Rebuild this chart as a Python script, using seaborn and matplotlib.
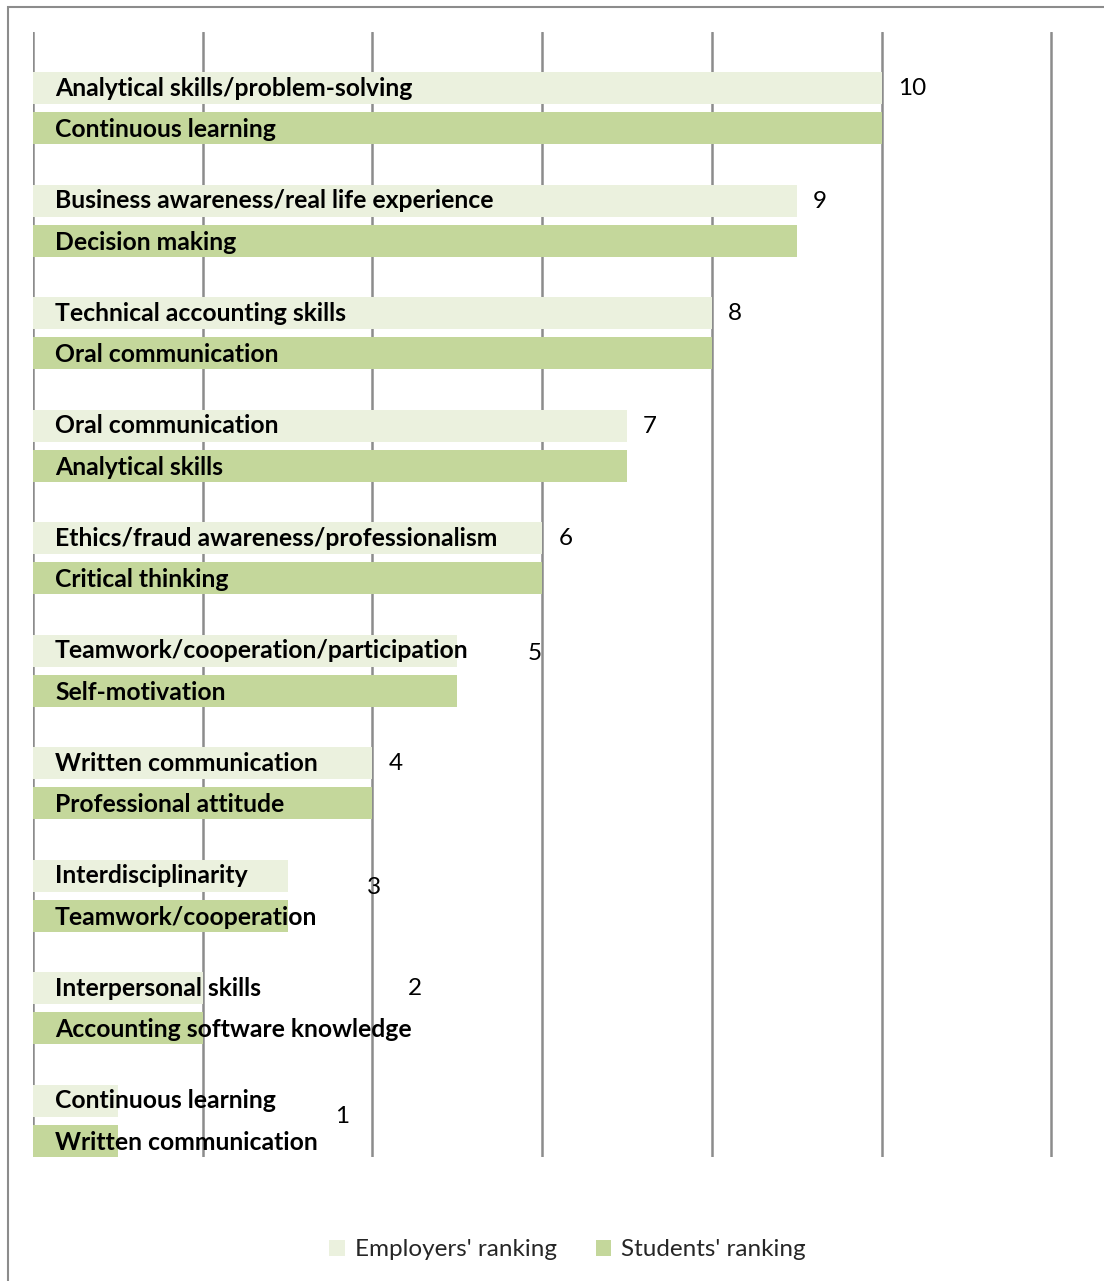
import matplotlib
matplotlib.use("Agg")
import matplotlib.pyplot as plt
import matplotlib.patches as mpatches
import pandas as pd
import seaborn as sns

# --- data -------------------------------------------------------------
ranks = [10, 9, 8, 7, 6, 5, 4, 3, 2, 1]
employer_skills = [
    "Analytical skills/problem-solving",
    "Business awareness/real life experience",
    "Technical accounting skills",
    "Oral communication",
    "Ethics/fraud awareness/professionalism",
    "Teamwork/cooperation/participation",
    "Written communication",
    "Interdisciplinarity",
    "Interpersonal skills",
    "Continuous learning",
]
student_skills = [
    "Continuous learning",
    "Decision making",
    "Oral communication",
    "Analytical skills",
    "Critical thinking",
    "Self-motivation",
    "Professional attitude",
    "Teamwork/cooperation",
    "Accounting software knowledge",
    "Written communication",
]
series_names = ["Employers' ranking", "Students' ranking"]

# --- layout / style ---------------------------------------------------
colors = {"Employers' ranking": "#EBF1DE", "Students' ranking": "#C4D79B"}
# horizontal / vertical nudges of the rank numbers (axis units)
num_dx = [0.19, 0.19, 0.19, 0.19, 0.19, 0.83, 0.19, 0.94, 2.42, 2.56]
num_dy = [-0.17, -0.17, -0.17, -0.17, -0.17, -0.15, -0.17, -0.07, -0.17, -0.04]
label_x = 0.26
fsize = 17.5
label_size = 17.8

sns.set_theme(style="white")
plt.rcParams["font.family"] = ["Lato", "DejaVu Sans"]

rows = []
for r in ranks:
    rows.append({"rank": str(r), "series": series_names[0], "value": r})
    rows.append({"rank": str(r), "series": series_names[1], "value": r})
df = pd.DataFrame(rows)

fig = plt.figure(figsize=(11.04, 12.81), dpi=100)
ax = fig.add_axes([33 / 1104, 124 / 1281, 1020 / 1104, 1125 / 1281])

sns.barplot(
    data=df, y="rank", x="value", hue="series", orient="h",
    order=[str(r) for r in ranks], hue_order=series_names,
    palette=colors, width=0.711, gap=0.2, saturation=1,
    linewidth=0, legend=False, ax=ax, zorder=2,
)

ax.set_xlim(0, 12.02)
ax.set_ylim(9.324, -0.676)
ax.set_xticks(range(0, 13, 2))
ax.grid(axis="x", color="#8C8C8C", linewidth=1.8, zorder=0)
ax.grid(axis="y", visible=False)
ax.tick_params(left=False, bottom=False, labelleft=False, labelbottom=False)
ax.set_xlabel("")
ax.set_ylabel("")
for s in ax.spines.values():
    s.set_visible(False)

off = 0.178
for i, r in enumerate(ranks):
    ax.text(label_x, i - off, employer_skills[i], ha="left", va="center",
            fontsize=label_size, fontweight="bold", color="black", zorder=5)
    ax.text(label_x, i + off + 0.015, student_skills[i], ha="left", va="center",
            fontsize=label_size, fontweight="bold", color="black", zorder=5)
    ax.text(r + num_dx[i], i + num_dy[i], str(r), ha="left", va="center",
            fontsize=fsize, color="black", zorder=5)

# outer chart frame
fig.patches.append(mpatches.Rectangle(
    (8 / 1104, -0.05), 1.2, 1.05 - 7 / 1281, transform=fig.transFigure,
    fill=False, edgecolor="#8C8C8C", linewidth=1.5))

handles = [mpatches.Patch(facecolor=colors[n], edgecolor="none", label=n)
           for n in series_names]
fig.legend(handles=handles, loc="center", bbox_to_anchor=(0.514, 0.0242),
           ncol=2, frameon=False, fontsize=fsize, handlelength=0.65,
           handleheight=0.65, handletextpad=0.4, columnspacing=1.6)

fig.savefig("out.png", dpi=100)
